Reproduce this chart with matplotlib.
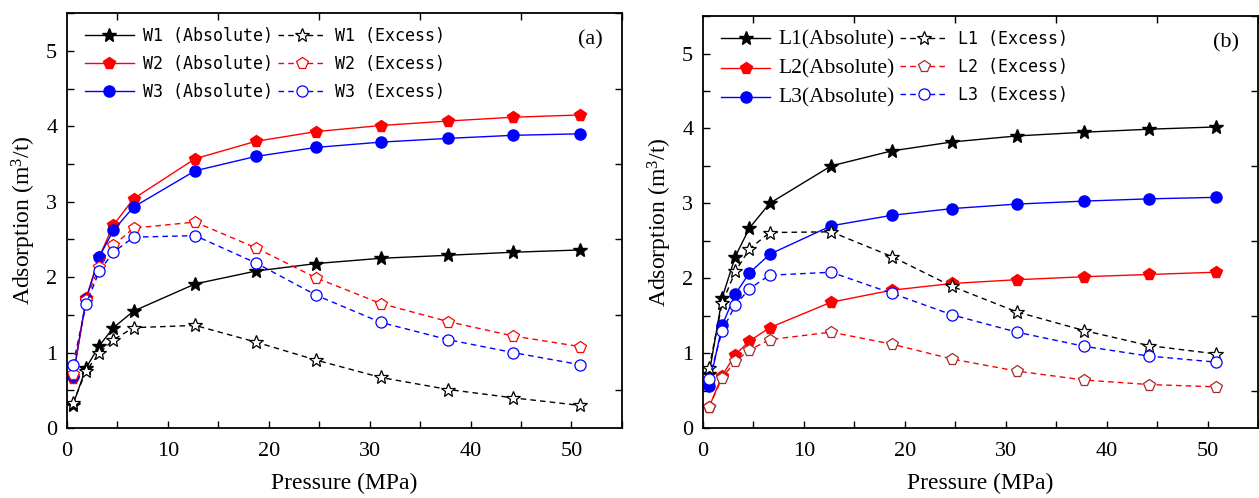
import matplotlib
matplotlib.use("Agg")
import matplotlib.pyplot as plt
from matplotlib.ticker import MultipleLocator

# pressure points (MPa), same for all series
pressure = [0.6, 1.9, 3.2, 4.6, 6.6, 12.7, 18.7, 24.7, 31.1, 37.8, 44.2, 50.8]

# panel (a)
w1_abs = [0.31, 0.80, 1.09, 1.33, 1.55, 1.91, 2.08, 2.18, 2.25, 2.29, 2.33, 2.36]
w1_exc = [0.33, 0.76, 0.99, 1.17, 1.33, 1.36, 1.14, 0.90, 0.67, 0.51, 0.40, 0.30]
w2_abs = [0.66, 1.72, 2.27, 2.69, 3.04, 3.57, 3.80, 3.93, 4.01, 4.07, 4.12, 4.15]
w2_exc = [0.72, 1.70, 2.14, 2.42, 2.65, 2.73, 2.39, 1.99, 1.65, 1.41, 1.22, 1.08]
w3_abs = [0.69, 1.71, 2.27, 2.62, 2.93, 3.41, 3.60, 3.72, 3.79, 3.84, 3.88, 3.90]
w3_exc = [0.84, 1.64, 2.08, 2.33, 2.53, 2.55, 2.19, 1.76, 1.40, 1.17, 1.00, 0.84]

# panel (b)
l1_abs = [0.72, 1.74, 2.29, 2.67, 3.00, 3.50, 3.70, 3.82, 3.90, 3.95, 3.99, 4.02]
l1_exc = [0.80, 1.67, 2.09, 2.39, 2.61, 2.62, 2.29, 1.89, 1.55, 1.30, 1.10, 0.99]
l2_abs = [0.28, 0.70, 0.98, 1.16, 1.34, 1.68, 1.84, 1.93, 1.98, 2.02, 2.05, 2.08]
l2_exc = [0.28, 0.67, 0.89, 1.04, 1.18, 1.28, 1.12, 0.92, 0.76, 0.64, 0.58, 0.55]
l3_abs = [0.56, 1.37, 1.79, 2.07, 2.32, 2.70, 2.84, 2.93, 2.99, 3.03, 3.06, 3.08]
l3_exc = [0.65, 1.30, 1.64, 1.86, 2.04, 2.08, 1.80, 1.51, 1.28, 1.09, 0.96, 0.88]

serif = "Liberation Serif"
mono = "DejaVu Sans Mono"

plt.rcParams["mathtext.fontset"] = "custom"
plt.rcParams["mathtext.rm"] = serif
plt.rcParams["mathtext.it"] = serif

fig = plt.figure(figsize=(12.59, 4.98), dpi=100)
ax1 = fig.add_axes([0.0532, 0.1406, 0.4408, 0.833])
ax2 = fig.add_axes([0.5584, 0.1406, 0.4408, 0.827])


def draw(ax, names, absd, excd, exc_edge, tag, abs_font):
    markers = ["*", "p", "o"]
    sizes = [10, 8.5, 8]
    colors = ["black", "red", "blue"]
    hs_abs = []
    hs_exc = []
    for i in range(3):
        h, = ax.plot(pressure, absd[i], color=colors[i], lw=1, marker=markers[i],
                     ms=sizes[i], mfc=colors[i], mec=colors[i])
        hs_abs.append(h)
    for i in range(3):
        h, = ax.plot(pressure, excd[i], color=colors[i], lw=1, ls=(0, (4, 3)),
                     marker=markers[i], ms=sizes[i], mfc="white", mec=exc_edge[i],
                     mew=0.9)
        hs_exc.append(h)
    labels = [n + abs_font[1] + "(Absolute)" for n in names] + [n + " (Excess)" for n in names]
    leg = ax.legend(hs_abs + hs_exc, labels, ncol=2, loc="upper left", frameon=False,
                    prop={"family": mono, "size": 12}, handlelength=2.9,
                    handletextpad=0.55, columnspacing=0.3, labelspacing=0.6,
                    borderaxespad=0.3, bbox_to_anchor=(0.012, 0.995))
    for t in leg.get_texts()[:3]:
        t.set_fontfamily(abs_font[0])
        if abs_font[0] == serif:
            t.set_fontsize(15.5)
    ax.text(0.965, 0.935, tag, transform=ax.transAxes, ha="right", va="center",
            fontsize=16, family=serif)

    ax.set_xlim(0, 55)
    ax.set_ylim(0, 5.5)
    ax.xaxis.set_major_locator(MultipleLocator(10))
    ax.xaxis.set_minor_locator(MultipleLocator(5))
    ax.yaxis.set_major_locator(MultipleLocator(1))
    ax.yaxis.set_minor_locator(MultipleLocator(0.5))
    ax.tick_params(which="both", direction="in", length=5, width=1,
                   labelsize=16, pad=7)
    ax.tick_params(axis="x", which="both", pad=10)
    ax.tick_params(which="major", top=False, right=False)
    ax.tick_params(which="minor", top=True, right=True)
    for lab in ax.get_xticklabels() + ax.get_yticklabels():
        lab.set_fontfamily(serif)
    for s in ax.spines.values():
        s.set_linewidth(1.3)
    ax.set_xlabel("Pressure (MPa)", family=serif, fontsize=17, labelpad=9)
    ax.set_ylabel("Adsorption (m$^3$/t)", family=serif, fontsize=17, labelpad=6)


draw(ax1, ["W1", "W2", "W3"], [w1_abs, w2_abs, w3_abs], [w1_exc, w2_exc, w3_exc],
     ["black", "red", "blue"], "(a)", (mono, " "))
draw(ax2, ["L1", "L2", "L3"], [l1_abs, l2_abs, l3_abs], [l1_exc, l2_exc, l3_exc],
     ["black", "#a52a2a", "blue"], "(b)", (serif, ""))

fig.savefig("out.png", dpi=100)
